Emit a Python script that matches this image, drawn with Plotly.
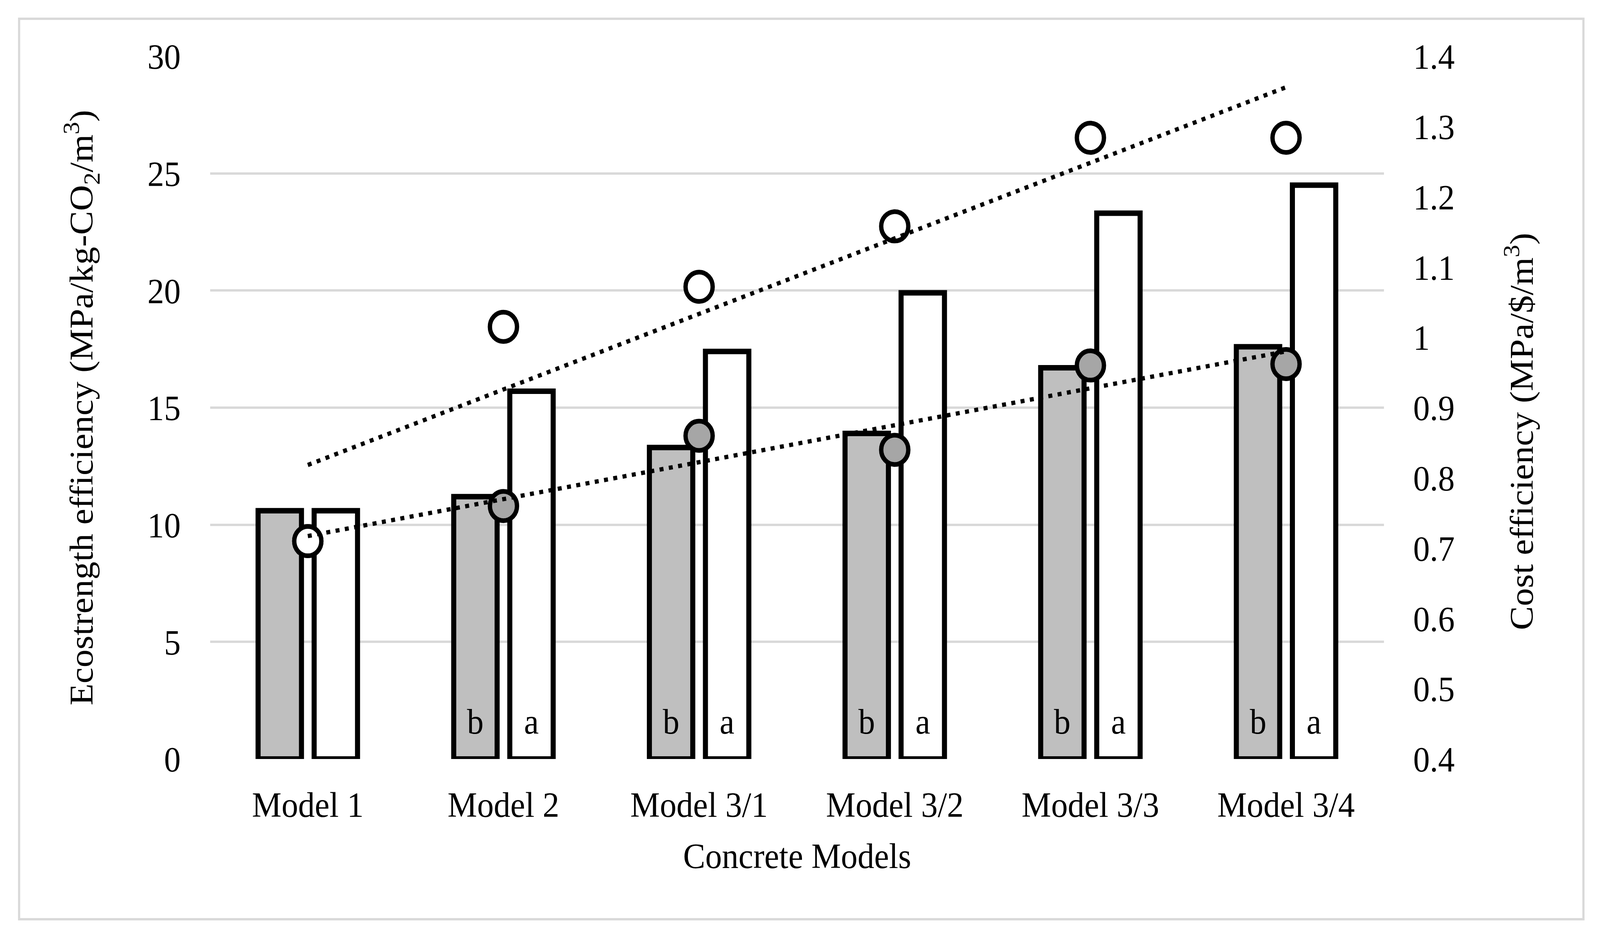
import numpy as np
import plotly.graph_objects as go

# ---------------- data ----------------
categories = ["Model 1", "Model 2", "Model 3/1", "Model 3/2", "Model 3/3", "Model 3/4"]
eco_gray = [10.6, 11.2, 13.3, 13.9, 16.7, 17.6]      # left axis, grey bars
eco_white = [10.6, 15.7, 17.4, 19.9, 23.3, 24.5]     # left axis, white bars
cost_gray = [0.71, 0.76, 0.86, 0.84, 0.96, 0.962]    # right axis, grey circles
cost_white = [0.71, 1.015, 1.072, 1.158, 1.284, 1.284]  # right axis, white circles
labels_gray = ["", "b", "b", "b", "b", "b"]
labels_white = ["", "a", "a", "a", "a", "a"]
left_ticks = [0, 5, 10, 15, 20, 25, 30]
right_ticks = [0.4, 0.5, 0.6, 0.7, 0.8, 0.9, 1.0, 1.1, 1.2, 1.3, 1.4]
right_ticktext = ["0.4", "0.5", "0.6", "0.7", "0.8", "0.9", "1", "1.1", "1.2", "1.3", "1.4"]

# ---------------- style ----------------
FONT = "Liberation Serif, Times New Roman, serif"
FS = 92
BARGAP = 0.427
GROUPGAP = 0.226
GRID = "#D9D9D9"
W, H = 4427, 2400

idx = np.arange(len(categories))
fit_white = np.polyfit(idx, cost_white, 1)
fit_gray = np.polyfit(idx, cost_gray, 1)
ends = [idx[0], idx[-1]]

fig = go.Figure()
fig.add_trace(go.Bar(x=categories, y=eco_gray, marker=dict(color="#BFBFBF", line=dict(color="black", width=14)),
                     name="Ecostrength grey", showlegend=False))
fig.add_trace(go.Bar(x=categories, y=eco_white, marker=dict(color="white", line=dict(color="black", width=14)),
                     name="Ecostrength white", showlegend=False))
fig.add_trace(go.Scatter(x=categories, y=cost_gray, yaxis="y2", mode="markers",
                         marker=dict(size=75, color="#A6A6A6", line=dict(color="black", width=12)),
                         showlegend=False))
fig.add_trace(go.Scatter(x=categories, y=cost_white, yaxis="y2", mode="markers",
                         marker=dict(size=75, color="white", line=dict(color="black", width=12)),
                         showlegend=False))
fig.add_trace(go.Scatter(x=[categories[0], categories[-1]], y=list(np.polyval(fit_white, ends)), yaxis="y2",
                         mode="lines", line=dict(color="black", width=11, dash="11px,15px"), showlegend=False))
fig.add_trace(go.Scatter(x=[categories[0], categories[-1]], y=list(np.polyval(fit_gray, ends)), yaxis="y2",
                         mode="lines", line=dict(color="black", width=11, dash="11px,15px"), showlegend=False))

off = (1 - BARGAP) / 4
annotations = []
for i in range(len(categories)):
    for lab, dx in ((labels_gray[i], -off), (labels_white[i], off)):
        if lab:
            annotations.append(dict(x=i + dx, y=1.6, xref="x", yref="y", text=lab, showarrow=False,
                                    yanchor="middle", xanchor="center", font=dict(family=FONT, size=FS, color="black")))

annotations += [
    dict(x=-0.1096, y=0.5, xref="paper", yref="paper", textangle=-90, showarrow=False,
         text="Ecostrength efficiency (MPa/kg-CO<sub>2</sub>/m<sup>3</sup>)",
         font=dict(family=FONT, size=FS, color="black"), xanchor="center", yanchor="middle"),
    dict(x=1.1155, y=0.466, xref="paper", yref="paper", textangle=-90, showarrow=False,
         text="Cost efficiency (MPa/$/m<sup>3</sup>)",
         font=dict(family=FONT, size=FS, color="black"), xanchor="center", yanchor="middle"),
    dict(x=0.5, y=-0.138, xref="paper", yref="paper", showarrow=False, text="Concrete Models",
         font=dict(family=FONT, size=FS, color="black"), xanchor="center", yanchor="middle"),
]

fig.update_layout(
    width=W, height=H,
    margin=dict(l=581, r=598, t=144, b=458),
    paper_bgcolor="white", plot_bgcolor="white",
    barmode="group", bargap=BARGAP, bargroupgap=GROUPGAP,
    font=dict(family=FONT, size=FS, color="black"),
    xaxis=dict(type="category", categoryorder="array", categoryarray=categories,
               showgrid=False, showline=False, zeroline=False, ticks="",
               ticklabelstandoff=55, tickfont=dict(family=FONT, size=FS, color="black")),
    yaxis=dict(range=[0, 30], tickvals=left_ticks, showgrid=True, gridcolor=GRID, gridwidth=6,
               zeroline=False, showline=False, ticks="", ticklabelstandoff=80,
               tickfont=dict(family=FONT, size=FS, color="black")),
    yaxis2=dict(range=[0.4, 1.4], tickvals=right_ticks, ticktext=right_ticktext, overlaying="y", side="right",
                showgrid=False, zeroline=False, showline=False, ticks="", ticklabelstandoff=80,
                tickfont=dict(family=FONT, size=FS, color="black")),
    annotations=annotations,
    shapes=[dict(type="rect", xref="paper", yref="paper", x0=-0.1626, x1=1.1700, y0=-0.2280, y1=1.0534,
                 line=dict(color=GRID, width=6), fillcolor="rgba(0,0,0,0)", layer="below")],
)

# fit the 4427x2400 figure exactly into whatever viewport the browser really has
post_js = """
(function(){
  var gd = document.getElementById('{plot_id}');
  document.documentElement.style.margin = '0';
  document.body.style.margin = '0';
  document.body.style.overflow = 'hidden';
  var kx = window.innerWidth / %d, ky = window.innerHeight / %d;
  if (Math.abs(kx - 1) > 0.002 || Math.abs(ky - 1) > 0.002) {
    gd.style.transformOrigin = '0 0';
    gd.style.transform = 'scale(' + kx + ',' + ky + ')';
  }
})();
""" % (W, H)

fig.write_html("out.html", post_script=post_js, config={"displayModeBar": False})
